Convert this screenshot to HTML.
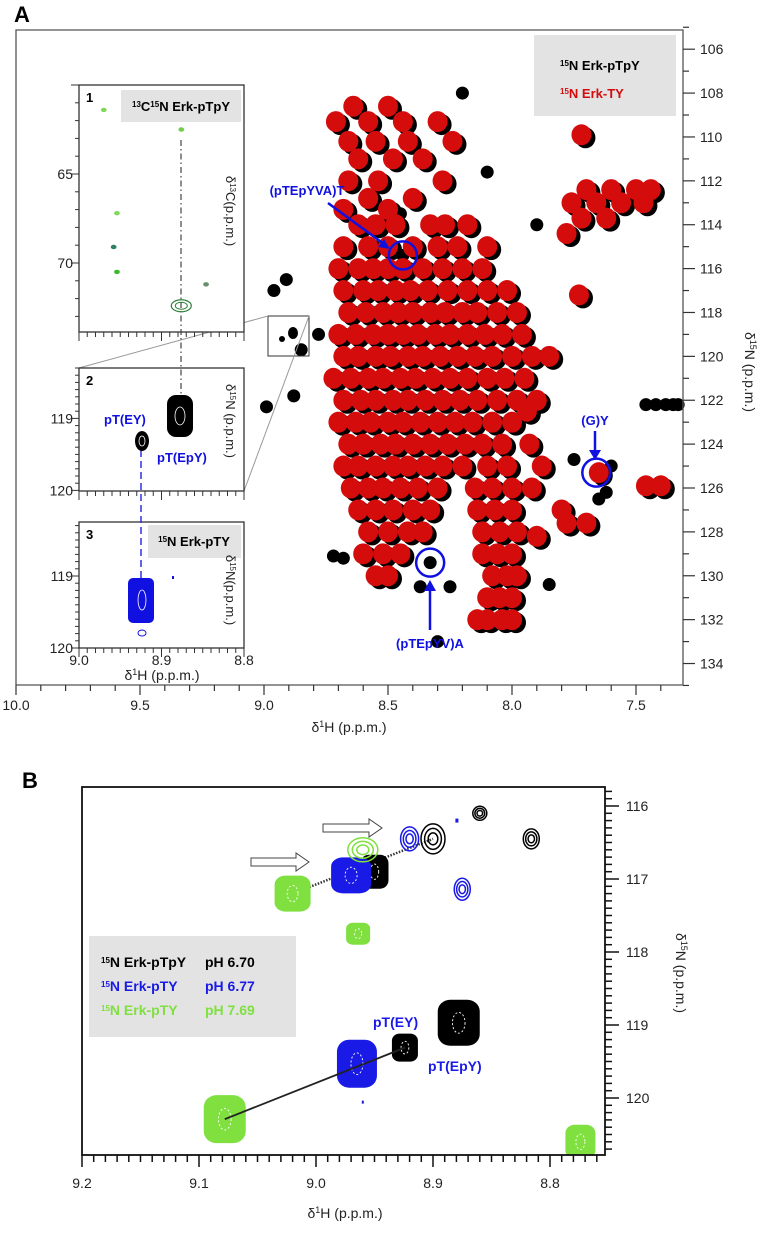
<!DOCTYPE html>
<html><head><meta charset="utf-8"><style>
html,body{margin:0;padding:0;background:#fff}
svg{display:block;font-family:"Liberation Sans",sans-serif}
.tk{font-size:14px;fill:#222}
</style></head><body>
<svg id="fig" width="760" height="1250" viewBox="0 0 760 1250" xmlns="http://www.w3.org/2000/svg">
<text x="14" y="22" font-size="22" font-weight="bold">A</text>
<text x="22" y="788" font-size="22" font-weight="bold">B</text>
<g id="gA"></g>
<g id="gB"></g>
</svg>
<script>
// ---------- Panel A data ----------
const aXTicks = [10.0, 9.5, 9.0, 8.5, 8.0, 7.5];
const aYTicks = [106,108,110,112,114,116,118,120,122,124,126,128,130,132,134];
const redRows = [
 [108.6,[8.64,8.50]],[109.3,[8.71,8.58,8.44,8.30]],[110.2,[8.66,8.55,8.42,8.24]],
 [111.0,[8.62,8.48,8.36]],[112.0,[8.66,8.54,8.28]],[112.8,[8.58,8.40]],[113.3,[8.68,8.50]],
 [114,[8.62,8.55,8.47,8.33,8.27,8.18]],
 [115,[8.68,8.58,8.50,8.40,8.30,8.22,8.10]],
 [116,[8.70,8.62,8.56,8.50,8.44,8.36,8.28,8.20,8.12]],
 [117,[8.68,8.60,8.54,8.47,8.41,8.34,8.26,8.18,8.10,8.02]],
 [118,[8.66,8.59,8.52,8.46,8.40,8.33,8.27,8.20,8.14,8.06,7.98]],
 [119,[8.70,8.63,8.56,8.50,8.44,8.38,8.31,8.25,8.18,8.11,8.04,7.96]],
 [120,[8.68,8.62,8.55,8.49,8.42,8.36,8.29,8.22,8.15,8.08,8.00,7.92,7.85]],
 [121,[8.72,8.65,8.58,8.52,8.45,8.39,8.32,8.25,8.18,8.10,8.03,7.95]],
 [122,[8.68,8.61,8.55,8.48,8.42,8.35,8.28,8.21,8.14,8.06,7.98,7.90]],
 [123,[8.70,8.63,8.57,8.50,8.44,8.37,8.30,8.23,8.16,8.08,8.00]],
 [124,[8.66,8.60,8.53,8.47,8.40,8.33,8.26,8.19,8.12,8.04,7.93]],
 [125,[8.68,8.62,8.55,8.48,8.42,8.35,8.28,8.20,8.10,8.02,7.88]],
 [126,[8.65,8.58,8.52,8.45,8.38,8.30,8.15,8.08,8.00,7.92]],
 [127,[8.62,8.55,8.48,8.40,8.33,8.14,8.07,8.00,7.80]],
 [128,[8.58,8.50,8.42,8.36,8.12,8.05,7.98]],
 [129,[8.60,8.52,8.45,8.12,8.06,8.00]],
 [130,[8.55,8.50,8.08,8.02,7.98]],
 [131,[8.10,8.05,8.00]],
 [132,[8.14,8.10,8.04,8.00]],
 [112.4,[7.70,7.60,7.50,7.44]],[113.0,[7.76,7.66,7.56,7.47]],[113.7,[7.72,7.62]],[114.4,[7.78]],
 [109.9,[7.72]],[117.2,[7.73]],[125.3,[7.65]],[125.9,[7.46,7.40]],[127.6,[7.78,7.70]],
 [122.5,[7.94]],[128.2,[7.90]]
];
const blackH = [8.96,8.91,8.67,8.99,8.88,8.66,8.44,8.33,8.37,8.25,7.85,7.65,7.75,7.60,7.62,8.04,8.72,8.68,8.85,8.78,7.46,7.42,7.38,7.35,7.33,8.20,8.10,7.90,8.45,8.30];
const blackN = [117.0,116.5,117.0,122.3,121.8,115.0,115.4,129.4,130.5,130.5,130.4,126.5,124.7,125.0,126.2,132.1,129.1,129.2,119.7,119.0,122.2,122.2,122.2,122.2,122.2,108.0,111.6,114.0,113.5,133.0];
const circH = [8.44, 8.33, 7.66];
const circN = [115.4, 129.4, 125.3];

// ---------- Panel B data ----------
const bXTicks = [9.2, 9.1, 9.0, 8.9, 8.8];
const bYTicks = [116, 117, 118, 119, 120];
const pkSeries = ['black','black','black','black','black','black','blue','blue','blue','blue','green','green','green','green','green'];
const pkH = [8.86, 8.90, 8.816, 8.95, 8.878, 8.924, 8.92, 8.97, 8.875, 8.965, 8.96, 9.02, 8.964, 9.078, 8.774];
const pkN = [116.1, 116.45, 116.45, 116.9, 118.97, 119.31, 116.45, 116.95, 117.14, 119.53, 116.6, 117.2, 117.75, 120.29, 120.6];
const pkFilled = [0,0,0,1,1,1,0,1,0,1,0,1,1,1,1];
const pkRx = [7,12,8,14,21,13,9,20,8,20,15,18,12,21,15];
const pkRy = [7,15,10,17,23,14,12,18,11,24,12,18,11,24,17];

const NS='http://www.w3.org/2000/svg';
function mk(tag, attrs, parent){const e=document.createElementNS(NS,tag);for(const k in attrs)e.setAttribute(k,attrs[k]);parent.appendChild(e);return e;}
const gA=document.getElementById('gA'), gB=document.getElementById('gB');

const xA=d=>16+(10-d)*248;
const yA=d=>488+(d-126)*21.94;
const A={l:16,t:30,r:683,b:685};

const peaksG=mk('g',{},gA);


redRows.forEach(([n,hs])=>hs.forEach(h=>{
  const e=mk('ellipse',{cx:xA(h)+4,cy:yA(n)+3,rx:10,ry:10.5,fill:'#000'},peaksG);
  
  
}));
blackH.forEach((h,i)=>{
  const e=mk('ellipse',{cx:xA(h),cy:yA(blackN[i]),rx:6.5,ry:6.5,fill:'#000'},peaksG);
  
  
});
redRows.forEach(([n,hs])=>hs.forEach(h=>{
  const e=mk('ellipse',{cx:xA(h),cy:yA(n),rx:10,ry:10.5,fill:'#d40c0c'},peaksG);
  
  
}));
circH.forEach((h,i)=>{
  const e=mk('circle',{cx:xA(h),cy:yA(circN[i]),r:14,fill:'none',stroke:'#1010e0','stroke-width':2.5},gA);
  
  
});

const fr=mk('path',{d:`M${A.l},${A.b}V${A.t}H${A.r}V${A.b}H${A.l}`,fill:'none',stroke:'#555','stroke-width':1.3},gA);


for(let v=100;v>=74;v--){const d=v/10;const x=xA(d);if(x>A.r)break;const maj=v%5===0;
  const t=mk('line',{x1:x,y1:A.b,x2:x,y2:A.b+(maj?10:6),stroke:'#333','stroke-width':1.2},gA);
  
  }
aXTicks.forEach(d=>{const t=mk('text',{x:xA(d),y:710,'text-anchor':'middle',class:'tk'},gA);t.textContent=d.toFixed(1);
  
  });
for(let v=105;v<=135;v++){const y=yA(v);const maj=v%2===0;
  const t=mk('line',{x1:A.r,y1:y,x2:A.r+(maj?12:6),y2:y,stroke:'#333','stroke-width':1.2},gA);
  
  }
aYTicks.forEach(d=>{const t=mk('text',{x:700,y:yA(d)+5,class:'tk'},gA);t.textContent=d;
  
  });
</script>
<script>
(function(){
const g=document.getElementById('gA');
g.insertAdjacentHTML('beforeend',`
<text x="349" y="732" font-size="14" text-anchor="middle" fill="#222">δ<tspan baseline-shift="super" font-size="9">1</tspan>H (p.p.m.)</text>
<text transform="translate(745,372) rotate(90)" font-size="14" text-anchor="middle" fill="#222">δ<tspan baseline-shift="super" font-size="9">15</tspan>N (p.p.m.)</text>
<g>
<rect x="534" y="35" width="142" height="81" fill="#e3e3e3"/>
<text x="560" y="70" font-size="13" font-weight="bold" fill="#000"><tspan baseline-shift="super" font-size="8">15</tspan>N Erk-pTpY</text>
<text x="560" y="98" font-size="13" font-weight="bold" fill="#d40c0c"><tspan baseline-shift="super" font-size="8">15</tspan>N Erk-TY</text>
</g>
<text x="307" y="195" font-size="13" font-weight="bold" fill="#1010e0" text-anchor="middle">(pTEpYVA)T</text>
<line x1="328" y1="203" x2="384" y2="244" stroke="#1010e0" stroke-width="2.5"/>
<path d="M390,249 l-12,-2 l6,-8z" fill="#1010e0"/>
<text x="595" y="425" font-size="13" font-weight="bold" fill="#1010e0" text-anchor="middle">(G)Y</text>
<line x1="595" y1="431" x2="595" y2="452" stroke="#1010e0" stroke-width="2.5"/>
<path d="M595,460 l-6,-10 h12z" fill="#1010e0"/>
<text x="430" y="648" font-size="13" font-weight="bold" fill="#1010e0" text-anchor="middle">(pTEpYV)A</text>
<line x1="430" y1="630" x2="430" y2="590" stroke="#1010e0" stroke-width="2.5"/>
<path d="M430,580 l-6,11 h12z" fill="#1010e0"/>
<rect x="268" y="316" width="41" height="40" fill="none" stroke="#333" stroke-width="1"/>
<ellipse cx="293" cy="333" rx="5" ry="6" fill="#000"/>
<ellipse cx="282" cy="339" rx="3" ry="3" fill="#000"/>
<line x1="268" y1="316" x2="79" y2="368" stroke="#999" stroke-width="1"/>
<line x1="309" y1="316" x2="244" y2="491" stroke="#999" stroke-width="1"/>
`);
})();
</script>
<script>
const inset1CTicks = [65, 70];
const inset2NTicks = [119, 120];
const inset3NTicks = [119, 120];
const insetHTicks = [9.0, 8.9, 8.8];
const c13H = [8.97, 8.954, 8.958, 8.954, 8.876, 8.876, 8.846];
const c13C = [61.4, 67.2, 69.1, 70.5, 62.5, 72.4, 71.2];
const c13Col = ['#7ed957','#7ed957','#2f7f6a','#3cba2c','#6fcf4a','#2f7f3a','#6a8f6a'];
(function(){
const g=document.getElementById('gA');
const xi=d=>79+(9.0-d)*825;
const ins=[{t:85,b:332,y0:60,k:17.8,ticks:inset1CTicks,lab:'1',min:60,max:73},
           {t:368,b:491,y0:118.3,k:72,ticks:inset2NTicks,lab:'2',min:118.3,max:120,step:0.1},
           {t:522,b:648,y0:118.25,k:72,ticks:inset3NTicks,lab:'3',min:118.3,max:120,step:0.1}];
ins.forEach((s,i)=>{
  const r=mk('rect',{x:79,y:s.t,width:165,height:s.b-s.t,fill:'#fff',stroke:'#333','stroke-width':1.3},g);
  
  
  const n=mk('text',{x:86,y:s.t+17,'font-size':13,'font-weight':'bold'},g);n.textContent=s.lab;
  
  
  const yy=v=>s.t+(v-s.y0)*s.k;
  const st=s.step||1;
  for(let v=Math.ceil(s.min/st)*st;v<=s.max+1e-6;v+=st){const y=yy(v);if(y<s.t||y>s.b)continue;
    const maj=Math.abs(v-Math.round(v))<1e-6&&(i>0||Math.round(v)%5===0);
    const t=mk('line',{x1:79,y1:y,x2:79-(maj?8:4),y2:y,stroke:'#333'},g);
    
    }
  s.ticks.forEach(v=>{const t=mk('text',{x:73,y:yy(v)+5,'text-anchor':'end',class:'tk'},g);t.textContent=v;
    
    });
  for(let v=0;v<=20;v++){const x=79+v*8.25;const maj=v%10===0;
    const t=mk('line',{x1:x,y1:s.b,x2:x,y2:s.b+(maj?9:5),stroke:'#333'},g);
    
    }
});
insetHTicks.forEach(d=>{const t=mk('text',{x:xi(d),y:665,'text-anchor':'middle',class:'tk'},g);t.textContent=d.toFixed(1);
  
  });
g.insertAdjacentHTML('beforeend',`
<text x="162" y="680" font-size="14" text-anchor="middle" fill="#222">δ<tspan baseline-shift="super" font-size="9">1</tspan>H (p.p.m.)</text>
<rect x="121" y="90" width="120" height="32" fill="#e3e3e3"/>
<text x="181" y="111" font-size="13" font-weight="bold" text-anchor="middle"><tspan baseline-shift="super" font-size="8">13</tspan>C<tspan baseline-shift="super" font-size="8">15</tspan>N Erk-pTpY</text>
<rect x="148" y="525" width="93" height="33" fill="#e3e3e3"/>
<text x="194" y="546" font-size="13" font-weight="bold" text-anchor="middle"><tspan baseline-shift="super" font-size="8">15</tspan>N Erk-pTY</text>
<text transform="translate(226,211) rotate(90)" font-size="13" text-anchor="middle" fill="#222">δ<tspan baseline-shift="super" font-size="8">13</tspan>C(p.p.m.)</text>
<text transform="translate(226,421) rotate(90)" font-size="13" text-anchor="middle" fill="#222">δ<tspan baseline-shift="super" font-size="8">15</tspan>N (p.p.m.)</text>
<text transform="translate(226,590) rotate(90)" font-size="13" text-anchor="middle" fill="#222">δ<tspan baseline-shift="super" font-size="8">15</tspan>N(p.p.m.)</text>
<line x1="181" y1="140" x2="181" y2="400" stroke="#444" stroke-width="1.2" stroke-dasharray="6,3,1.5,3"/>
<line x1="141" y1="450" x2="141" y2="578" stroke="#3030e0" stroke-width="1.5" stroke-dasharray="7,4"/>
<rect x="167" y="395" width="26" height="42" rx="9" fill="#000"/>
<ellipse cx="180" cy="416" rx="5" ry="9" fill="none" stroke="#fff" stroke-width="0.8"/>
<ellipse cx="142" cy="441" rx="7" ry="10" fill="#000"/>
<ellipse cx="142" cy="441" rx="3" ry="5" fill="none" stroke="#fff" stroke-width="0.8"/>
<text x="104" y="424" font-size="13" font-weight="bold" fill="#1010e0">pT(EY)</text>
<text x="157" y="462" font-size="13" font-weight="bold" fill="#1010e0">pT(EpY)</text>
<rect x="128" y="578" width="26" height="45" rx="5" fill="#1010e0"/>
<ellipse cx="142" cy="600" rx="4" ry="10" fill="none" stroke="#fff" stroke-width="0.8"/>
<rect x="172" y="576" width="2" height="3" fill="#1010e0"/>
<ellipse cx="142" cy="633" rx="4" ry="3" fill="none" stroke="#1010e0"/>
`);
const yC=v=>85+(v-60)*17.8;
c13H.forEach((h,i)=>{
  const big=i===5;
  const e=mk('ellipse',{cx:xi(h),cy:yC(c13C[i]),rx:big?10:2.5,ry:big?6:1.8,fill:big?'none':c13Col[i],stroke:c13Col[i],'stroke-width':big?1.2:0.8},g);
  
  
  if(big){const e2=mk('ellipse',{cx:xi(h),cy:yC(c13C[i]),rx:6,ry:3.5,fill:'none',stroke:c13Col[i]},g);
    
    }
});
})();
</script>
<script>
(function(){
const g=document.getElementById('gB');
const xB=d=>82+(9.2-d)*1170;
const yB=d=>806+(d-116)*73;
const B={l:82,t:787,r:605,b:1155};
const col={black:'#000',blue:'#1a1ae6',green:'#7fe040'};
mk('clipPath',{id:'clipB'},g).appendChild(document.createElementNS(NS,'rect'));
const cr=g.querySelector('#clipB rect');cr.setAttribute('x',B.l);cr.setAttribute('y',B.t);cr.setAttribute('width',B.r-B.l);cr.setAttribute('height',B.b-B.t);
const pg=mk('g',{'clip-path':'url(#clipB)'},g);


const l1=mk('line',{x1:xB(pkH[11]),y1:yB(pkN[11]),x2:xB(pkH[1]),y2:yB(pkN[1]),stroke:'#333','stroke-width':2.5,'stroke-dasharray':'1.5,1.5'},pg);


pkH.forEach((h,i)=>{
  const c=col[pkSeries[i]],cx=xB(h),cy=yB(pkN[i]),rx=pkRx[i],ry=pkRy[i];
  if(pkFilled[i]){
    const e=mk('rect',{x:cx-rx,y:cy-ry,width:2*rx,height:2*ry,rx:rx*0.6,ry:ry*0.5,fill:c},pg);
    
    
    const w=mk('ellipse',{cx:cx,cy:cy,rx:rx*0.3,ry:ry*0.45,fill:'none',stroke:'#fff','stroke-width':0.9,'stroke-dasharray':'2,2'},pg);
    
    
  } else {
    [1,0.7,0.4].forEach(f=>{
      const e=mk('ellipse',{cx:cx,cy:cy,rx:rx*f,ry:ry*f,fill:'none',stroke:c,'stroke-width':1.5},pg);
      
      
    });
  }
});
const l2=mk('line',{x1:xB(pkH[13]),y1:yB(pkN[13]),x2:xB(pkH[5]),y2:yB(pkN[5]),stroke:'#222','stroke-width':1.8},pg);


const d1=mk('rect',{x:xB(8.88)-1,y:yB(116.2)-2,width:3,height:4,fill:col.blue},pg);


const d2=mk('rect',{x:xB(8.96)-1,y:yB(120.05)-1,width:2,height:3,fill:col.blue},pg);


const fr=mk('rect',{x:B.l,y:B.t,width:B.r-B.l,height:B.b-B.t,fill:'none',stroke:'#111','stroke-width':1.8},g);


for(let v=920;v>=875;v--){const x=xB(v/100);if(x>B.r+0.5)break;const maj=v%10===0;
  const t=mk('line',{x1:x,y1:B.b,x2:x,y2:B.b+(maj?12:7),stroke:'#111','stroke-width':1.5},g);
  
  }
bXTicks.forEach(d=>{const t=mk('text',{x:xB(d),y:1188,'text-anchor':'middle',class:'tk'},g);t.textContent=d.toFixed(1);
  
  });
for(let v=1158;v<=1207;v++){const y=yB(v/10);if(y<B.t||y>B.b)continue;const maj=v%10===0;
  const t=mk('line',{x1:B.r,y1:y,x2:B.r+(maj?14:7),y2:y,stroke:'#111','stroke-width':1.5},g);
  
  }
bYTicks.forEach(d=>{const t=mk('text',{x:626,y:yB(d)+5,class:'tk'},g);t.textContent=d;
  
  });
g.insertAdjacentHTML('beforeend',`
<text x="345" y="1218" font-size="14" text-anchor="middle" fill="#222">δ<tspan baseline-shift="super" font-size="9">1</tspan>H (p.p.m.)</text>
<text transform="translate(676,973) rotate(90)" font-size="14" text-anchor="middle" fill="#222">δ<tspan baseline-shift="super" font-size="9">15</tspan>N (p.p.m.)</text>
<g>
<rect x="89" y="936" width="207" height="101" fill="#e3e3e3"/>
<text x="101" y="967" font-size="14" font-weight="bold" fill="#000"><tspan baseline-shift="super" font-size="8">15</tspan>N Erk-pTpY</text>
<text x="205" y="967" font-size="14" font-weight="bold" fill="#000">pH 6.70</text>
<text x="101" y="991" font-size="14" font-weight="bold" fill="#1a1ae6"><tspan baseline-shift="super" font-size="8">15</tspan>N Erk-pTY</text>
<text x="205" y="991" font-size="14" font-weight="bold" fill="#1a1ae6">pH 6.77</text>
<text x="101" y="1015" font-size="14" font-weight="bold" fill="#7fe040"><tspan baseline-shift="super" font-size="8">15</tspan>N Erk-pTY</text>
<text x="205" y="1015" font-size="14" font-weight="bold" fill="#7fe040">pH 7.69</text>
</g>
<text x="373" y="1027" font-size="14" font-weight="bold" fill="#1a1ae6">pT(EY)</text>
<text x="428" y="1071" font-size="14" font-weight="bold" fill="#1a1ae6">pT(EpY)</text>
<path d="M323,824 h46 v-5 l13,9 l-13,9 v-5 h-46z" fill="#fff" stroke="#444" stroke-width="1"/>
<path d="M251,858 h45 v-5 l13,9 l-13,9 v-5 h-45z" fill="#fff" stroke="#444" stroke-width="1"/>
`);
})();
</script>
</body></html>
